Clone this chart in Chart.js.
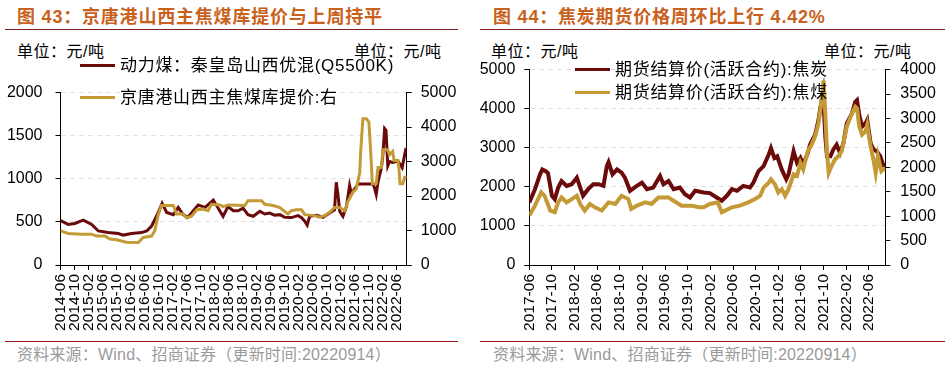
<!DOCTYPE html>
<html>
<head>
<meta charset="utf-8">
<script src="https://cdn.jsdelivr.net/npm/chart.js@4.4.0/dist/chart.umd.min.js"></script>
<style>
  body { margin: 0; width: 951px; height: 366px; background: #fff; position: relative; overflow: hidden;
         font-family: "Liberation Sans", "Noto Sans CJK SC", sans-serif; }
  .abs { position: absolute; white-space: nowrap; }
  .title { font-weight: bold; font-size: 18px; line-height: 18px; color: #C8611C; letter-spacing: 0.8px; }
  .unit { font-size: 16px; line-height: 16px; color: #000; letter-spacing: 0.5px; }
  .leg { font-size: 17px; line-height: 17px; color: #000; letter-spacing: 0.7px; }
  .swatch { position: absolute; height: 3px; width: 35px; }
  .src { font-size: 16px; line-height: 16px; color: #9a9a9a; letter-spacing: 0.2px; }
  .rule { position: absolute; height: 1px; }
  canvas { position: absolute; }
</style>
</head>
<body>
<div class="abs title" style="left:17px;top:8px">图 43：京唐港山西主焦煤库提价与上周持平</div>
<div class="abs title" style="left:493px;top:8px">图 44：焦炭期货价格周环比上行 4.42%</div>
<div class="rule" style="left:5px;top:29px;width:453px;background:#7F1F1F"></div>
<div class="rule" style="left:480px;top:29px;width:465px;background:#7F1F1F"></div>

<div class="abs unit" style="left:17px;top:44px">单位：元/吨</div>
<div class="abs unit" style="left:354px;top:44px">单位：元/吨</div>
<div class="abs unit" style="left:491px;top:44px">单位：元/吨</div>
<div class="abs unit" style="left:824px;top:44px">单位：元/吨</div>

<canvas id="chart43" width="470" height="275" style="left:0;top:70px"></canvas>
<canvas id="chart44" width="481" height="295" style="left:470px;top:50px"></canvas>
<div id="legends"></div>

<div class="rule" style="left:5px;top:341px;width:453px;background:#9B1B1B"></div>
<div class="rule" style="left:480px;top:341px;width:465px;background:#9B1B1B"></div>
<div class="abs src" style="left:17px;top:347px">资料来源：Wind、招商证券（更新时间:20220914）</div>
<div class="abs src" style="left:493px;top:347px">资料来源：Wind、招商证券（更新时间:20220914）</div>

<script>
// 图43: x = months since 2014-06
const powerCoalName = '动力煤：秦皇岛山西优混(Q5500K)';
const powerCoalMonths = [0, 2.2, 4.1, 6.5, 8.9, 10.8, 13.6, 16.5, 17.9, 20.3, 23.1, 24.6, 26.0, 27.4, 29.0, 30.3,
  32.2, 33.6, 35.0, 36.4, 37.9, 39.3, 41.2, 43.6, 45.0, 46.4, 47.8, 49.3, 50.7, 52.1, 53.5, 55.0, 56.9, 58.3,
  59.7, 61.1, 62.6, 64.0, 65.9, 67.8, 68.8, 69.7, 70.4, 71.1, 73.0, 74.9, 76.8, 78.2, 78.7, 79.2, 79.7, 80.6,
  81.6, 82.5, 83.0, 84.0, 84.9, 89.2, 89.7, 90.1, 90.6, 91.6, 92.0, 92.5, 92.9, 93.4, 93.9, 94.8, 96.3, 96.9,
  97.5, 98.5, 98.8];
const powerCoalValues = [516, 471, 482, 520, 471, 395, 376, 365, 347, 365, 376, 395, 452, 565, 716, 610,
  584, 667, 584, 554, 629, 697, 667, 753, 659, 565, 678, 630, 629, 659, 584, 565, 622, 592,
  603, 578, 584, 554, 550, 573, 548, 509, 463, 565, 578, 554, 603, 640, 960, 810, 622, 565,
  678, 923, 830, 885, 941, 941, 880, 818, 960, 1130, 1280, 1582, 1560, 1150, 1200, 1190, 1205, 1168,
  1130, 1337, 1330];

const cokingCoalName = '京唐港山西主焦煤库提价:右';
const cokingCoalMonths = [0, 2.2, 6.0, 8.9, 10.3, 12.7, 14.1, 16.0, 18.8, 22.2, 23.6, 26.0, 26.9, 27.9, 28.8,
  32.2, 33.1, 35.0, 36.0, 37.4, 38.9, 40.7, 42.1, 43.1, 45.5, 46.4, 47.8, 52.6, 53.5, 57.4, 58.3, 60.7, 62.6,
  64.9, 65.9, 67.3, 68.8, 69.7, 72.5, 73.9, 75.4, 76.8, 78.2, 79.7, 81.1, 82.0, 83.5, 84.4, 85.4, 85.7, 86.3,
  87.3, 88.0, 88.5, 89.0, 90.1, 90.6, 91.6, 92.0, 93.4, 93.9, 94.8, 95.2, 96.3, 96.6, 96.9, 97.7, 98.2, 98.8];
const cokingCoalValues = [989, 913, 895, 895, 838, 838, 754, 730, 659, 650, 800, 838, 989, 1460, 1723,
  1723, 1478, 1478, 1365, 1413, 1601, 1620, 1573, 1761, 1742, 1695, 1742, 1723, 1864, 1864, 1761, 1723, 1667,
  1478, 1573, 1601, 1601, 1460, 1432, 1384, 1432, 1525, 1667, 1667, 1573, 1836, 2119, 2200, 2684, 3342, 4238,
  4238, 4144, 3342, 2354, 2354, 2825, 2825, 3342, 3342, 3200, 3295, 3030, 3030, 2777, 2354, 2354, 2542, 2542];

// 图44: x = months since 2017-06
const cokeFutName = '期货结算价(活跃合约):焦炭';
const cokeFutMonths = [0, 1.0, 1.9, 2.3, 2.9, 3.3, 4.0, 4.5, 5.1, 5.7, 6.6, 7.5, 8.4, 9.0, 9.5, 10.4, 11.3,
  12.2, 13.1, 13.7, 14.0, 14.7, 15.5, 16.3, 16.9, 17.8, 19.0, 19.9, 20.8, 21.9, 23.1, 23.7, 24.6, 25.5, 26.6,
  27.5, 28.4, 29.3, 30.8, 31.9, 33.1, 34.0, 34.9, 35.8, 36.7, 37.8, 39.0, 39.6, 40.5, 41.4, 42.3, 42.7, 43.3,
  43.8, 44.6, 45.4, 45.8, 46.7, 47.3, 47.9, 48.4, 49.2, 49.6, 50.5, 51.1, 51.4, 51.9, 52.3, 52.6, 53.2, 53.7,
  54.3, 54.9, 55.5, 56.1, 57.0, 57.6, 57.9, 58.3, 58.8, 59.4, 59.7, 60.3, 60.8, 61.4, 62.0, 62.6, 62.9];
const cokeFutValues = [1600, 1940, 2320, 2446, 2400, 2350, 1771, 1687, 1981, 2150, 2024, 2067, 2234, 1981, 1771, 1940, 2067,
  2067, 2024, 2530, 2631, 2320, 2446, 2362, 2234, 1898, 2024, 2109, 1940, 1981, 2277, 2067, 2150, 1940, 1981,
  1813, 1728, 1898, 1855, 1840, 1728, 1645, 1771, 1940, 1898, 2024, 1981, 2109, 2404, 2530, 2826, 2993, 2740,
  2783, 2446, 2193, 2320, 2910, 2615, 2740, 2573, 2868, 3079, 3332, 3711, 4005, 4400, 3289, 2783, 2783, 2952,
  3079, 2868, 3121, 3626, 3880, 4175, 4218, 3837, 3542, 3626, 3711, 3121, 2952, 2910, 2783, 2530, 2446];

const cokingFutName = '期货结算价(活跃合约):焦煤';
const cokingFutMonths = [0, 1.0, 2.1, 2.7, 3.7, 4.5, 5.1, 5.7, 6.6, 7.5, 8.4, 9.0, 9.8, 10.7, 11.6, 12.8, 14.0,
  15.2, 16.3, 17.5, 18.0, 19.0, 20.5, 21.6, 22.8, 24.6, 25.5, 26.9, 28.7, 29.9, 30.8, 31.9, 33.3, 34.0, 34.6,
  35.8, 37.2, 38.7, 39.9, 40.8, 41.4, 42.3, 42.7, 43.4, 44.0, 44.6, 45.2, 45.8, 46.7, 47.3, 47.9, 48.4, 49.2,
  49.9, 50.5, 51.1, 51.5, 52.0, 52.3, 52.6, 52.9, 53.4, 54.0, 54.6, 55.2, 56.1, 57.0, 57.6, 57.9, 58.3, 58.8,
  59.4, 59.7, 60.3, 60.8, 61.2, 61.6, 62.2, 62.9];
const cokingFutValues = [1012, 1215, 1485, 1417, 1114, 1080, 1282, 1383, 1282, 1350, 1417, 1248, 1114, 1248, 1181, 1114, 1282,
  1248, 1417, 1350, 1148, 1215, 1282, 1248, 1383, 1383, 1316, 1215, 1215, 1181, 1181, 1249, 1282, 1080, 1114,
  1181, 1215, 1282, 1350, 1417, 1586, 1687, 1755, 1654, 1485, 1552, 1417, 1552, 1856, 1822, 2092, 1957, 2329,
  2464, 2633, 2902, 3240, 3780, 3104, 2295, 1889, 2025, 2160, 2228, 2329, 2835, 3104, 3240, 3207, 2835, 2667,
  2734, 2868, 2430, 2160, 1889, 2228, 1923, 1990];

const darkRed = '#6B0A0A';
const gold = '#C49A37';

function monthLabel(startYear, startMonth) {
  return v => {
    const t = startYear * 12 + startMonth - 1 + Math.round(v);
    return Math.floor(t / 12) + '-' + String(t % 12 + 1).padStart(2, '0');
  };
}

function points(months, values) {
  return months.map((m, i) => ({ x: m, y: values[i] }));
}

function makeChart(id, o) {
  const tickFont = { family: 'Liberation Sans', size: 16 };
  const plain = v => String(v);
  new Chart(document.getElementById(id), {
    type: 'line',
    data: {
      datasets: [
        { label: o.leftName, data: points(o.leftMonths, o.leftValues), borderColor: darkRed, borderWidth: o.lw,
          pointRadius: 0, yAxisID: 'y', order: 2 },
        { label: o.rightName, data: points(o.rightMonths, o.rightValues), borderColor: gold, borderWidth: o.lw,
          pointRadius: 0, yAxisID: 'y2', order: 1 }
      ]
    },
    options: {
      responsive: false,
      devicePixelRatio: 1,
      animation: false,
      layout: { padding: { top: o.padTop, left: 0, right: 0, bottom: 0 } },
      plugins: { legend: { display: false }, tooltip: { enabled: false } },
      scales: {
        x: {
          type: 'linear', min: 0, max: o.xMax,
          afterFit: s => { s.height = 80; },
          ticks: { stepSize: 4, includeBounds: false, autoSkip: false, minRotation: 90, maxRotation: 90,
                   padding: 4, color: '#000', font: { family: 'Liberation Sans', size: 15.5 },
                   callback: monthLabel(o.startYear, o.startMonth) },
          grid: { drawOnChartArea: false, tickLength: 5, tickColor: '#000' },
          border: { color: '#000', width: 1 }
        },
        y: {
          position: 'left', min: 0, max: o.leftMax,
          afterFit: s => { s.width = o.leftW; },
          ticks: { stepSize: o.leftStep, padding: o.leftPad, color: '#000', font: tickFont, callback: plain },
          grid: { color: '#e2e2e2', tickLength: 5, tickColor: '#000', tickBorderDash: [] },
          border: { color: '#000', width: 1, dash: [5, 4] }
        },
        y2: {
          position: 'right', min: 0, max: o.rightMax,
          afterFit: s => { s.width = o.rightW; },
          ticks: { stepSize: o.rightStep, padding: o.rightPad, color: '#000', font: tickFont, callback: plain },
          grid: { drawOnChartArea: false, tickLength: 5, tickColor: '#000' },
          border: { color: '#000', width: 1 }
        }
      }
    }
  });
}

makeChart('chart43', {
  leftName: powerCoalName, leftMonths: powerCoalMonths, leftValues: powerCoalValues,
  rightName: cokingCoalName, rightMonths: cokingCoalMonths, rightValues: cokingCoalValues,
  startYear: 2014, startMonth: 6, xMax: 98.8, lw: 3,
  leftMax: 2000, leftStep: 500, rightMax: 5000, rightStep: 1000,
  padTop: 18.3, leftW: 60.5, rightW: 63.3, leftPad: 13, rightPad: 9
});

makeChart('chart44', {
  leftName: cokeFutName, leftMonths: cokeFutMonths, leftValues: cokeFutValues,
  rightName: cokingFutName, rightMonths: cokingFutMonths, rightValues: cokingFutValues,
  startYear: 2017, startMonth: 6, xMax: 62.9, lw: 4,
  leftMax: 5000, leftStep: 1000, rightMax: 4000, rightStep: 500,
  padTop: 17.5, leftW: 59.3, rightW: 65.7, leftPad: 9, rightPad: 10
});

// legends placed as in the source figure
const legendItems = [
  { name: powerCoalName, color: darkRed, x: 80, y: 65 },
  { name: cokingCoalName, color: gold, x: 80, y: 97 },
  { name: cokeFutName, color: darkRed, x: 575, y: 69 },
  { name: cokingFutName, color: gold, x: 575, y: 92 }
];
const box = document.getElementById('legends');
legendItems.forEach(it => {
  const sw = document.createElement('div');
  sw.className = 'swatch';
  sw.style.cssText = `left:${it.x}px;top:${it.y - 1.5}px;background:${it.color}`;
  const tx = document.createElement('div');
  tx.className = 'abs leg';
  tx.style.cssText = `left:${it.x + 40}px;top:${it.y - 8.5}px`;
  tx.textContent = it.name;
  box.appendChild(sw);
  box.appendChild(tx);
});
</script>
</body>
</html>
